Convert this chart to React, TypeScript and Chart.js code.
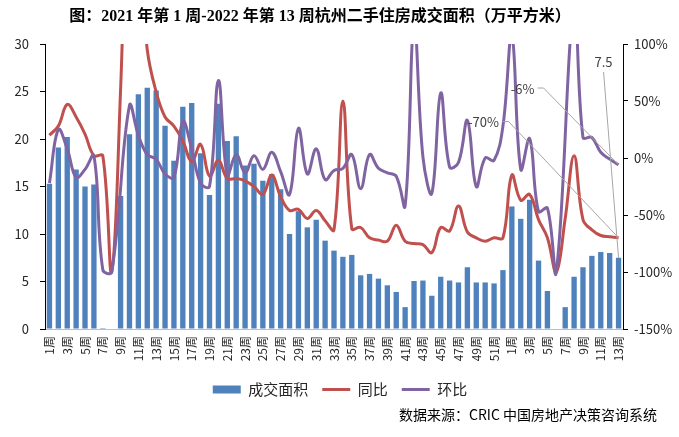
import { useEffect, useRef } from 'react';
import { Chart, registerables } from 'chart.js';

Chart.register(...registerables);

const TITLE = '图：2021 年第 1 周-2022 年第 13 周杭州二手住房成交面积（万平方米）';
const SOURCE = '数据来源：CRIC 中国房地产决策咨询系统';

const categories = [
  '1周', '2周', '3周', '4周', '5周', '6周', '7周', '8周', '9周', '10周',
  '11周', '12周', '13周', '14周', '15周', '16周', '17周', '18周', '19周', '20周',
  '21周', '22周', '23周', '24周', '25周', '26周', '27周', '28周', '29周', '30周',
  '31周', '32周', '33周', '34周', '35周', '36周', '37周', '38周', '39周', '40周',
  '41周', '42周', '43周', '44周', '45周', '46周', '47周', '48周', '49周', '50周',
  '51周', '52周',
  '1周', '2周', '3周', '4周', '5周', '6周', '7周', '8周', '9周', '10周',
  '11周', '12周', '13周',
];

// 成交面积（万平方米）
const area = [
  15.3, 19.1, 20.2, 16.8, 15.0, 15.2, 0.1, 0, 14.0, 20.5,
  24.7, 25.4, 25.1, 21.4, 17.7, 23.4, 23.8, 18.5, 14.1, 23.7,
  19.8, 20.3, 17.2, 17.4, 15.6, 16.3, 14.7, 10.0, 12.4, 10.7,
  11.5, 9.3, 8.25, 7.6, 7.8, 5.65, 5.8, 5.3, 4.6, 3.9,
  2.3, 5.05, 5.1, 3.5, 5.5, 5.1, 4.9, 6.5, 4.9, 4.9,
  4.8, 6.2,
  12.9, 11.6, 13.6, 7.2, 4.0, 0, 2.3, 5.5, 6.5, 7.7,
  8.1, 8.0, 7.5,
];

// 同比（%）
const yoy = [
  20, 28, 47, 36, 21, 2, 2, -100, 60, 280,
  190, 95, 58, 36, 28, 15, -3, 12, -16, -2,
  -18, -18, -20, -25, -32, -15, -34, -46, -45, -53,
  -46, -55, -63, 50, -62, -61, -70, -72, -73, -59,
  -73, -75, -76, -83, -61, -64, -42, -65, -70, -73,
  -70, -70,
  -15, -37, -32, -54, -70, -100, -53, 2, -54, -63,
  -68, -69, -70,
];

// 环比（%）
const wow = [
  -22, 25, 8, -17, -10, 2, -98, -100, null, 46,
  20, 3, -1, -14, -17, 32, 8, -22, -25, 68,
  -15, 3, -13, 2, -10, 5, -12, -32, 26, -14,
  8, -19, -11, -9, 3, -27, 3, -9, -13, -16,
  -42, 120, 1, -31, 57, -8, -4, 33, -25, 0,
  -2, 28,
  108, -10, 17, -47, -44, -100, null, 139, 18, 18,
  5, -1, -6,
];

const BLUE = '#4F81BD';
const RED = '#C0504D';
const PURPLE = '#8064A2';
const FONT = '"Noto Sans CJK SC", sans-serif';

const annotPlugin = {
  id: 'annot',
  afterDraw(chart: any) {
    const ctx = chart.ctx;
    const area0 = chart.chartArea;
    ctx.save();
    // title
    ctx.fillStyle = '#000';
    ctx.font = 'bold 16px "Liberation Serif", "Noto Sans CJK SC", serif';
    ctx.textAlign = 'center';
    ctx.textBaseline = 'middle';
    ctx.fillText(TITLE, 320, 17);
    // source
    ctx.font = '14px ' + FONT;
    ctx.textAlign = 'right';
    ctx.fillStyle = '#000';
    ctx.fillText(SOURCE, 657, 415);

    const n = area.length - 1;
    const bar = chart.getDatasetMeta(0).data[n];
    const red = chart.getDatasetMeta(1).data[n];
    const pur = chart.getDatasetMeta(2).data[n];
    const lx = bar.x;
    const top = area0.top;

    ctx.strokeStyle = '#A6A6A6';
    ctx.lineWidth = 1;
    // bar label
    ctx.beginPath();
    ctx.moveTo(lx - 15, top + 28);
    ctx.lineTo(bar.x, bar.y);
    ctx.stroke();
    // purple label
    ctx.beginPath();
    ctx.moveTo(lx - 81, top + 44);
    ctx.lineTo(lx - 75, top + 44);
    ctx.lineTo(pur.x, pur.y);
    ctx.stroke();
    // red label
    ctx.beginPath();
    ctx.moveTo(lx - 116, top + 77.5);
    ctx.lineTo(lx - 110, top + 77.5);
    ctx.lineTo(red.x, red.y);
    ctx.stroke();

    ctx.fillStyle = '#404040';
    ctx.font = '13px ' + FONT;
    ctx.textAlign = 'center';
    ctx.fillText(String(area[n]), lx - 15, top + 18.5);
    ctx.fillText(wow[n] + '%', lx - 96, top + 45.5);
    ctx.fillText(yoy[n] + '%', lx - 135, top + 78.5);
    ctx.restore();
  },
};

export default function App() {
  const ref = useRef<HTMLCanvasElement | null>(null);
  useEffect(() => {
    if (!ref.current) return;
    Chart.defaults.font.family = FONT;
    const chart = new Chart(ref.current, {
      type: 'bar',
      data: {
        labels: categories,
        datasets: [
          {
            type: 'bar',
            label: '成交面积',
            data: area,
            backgroundColor: BLUE,
            yAxisID: 'y',
            order: 2,
            barPercentage: 0.6,
            categoryPercentage: 1,
            pointStyle: 'rect',
          } as any,
          {
            type: 'line',
            label: '同比',
            data: yoy,
            borderColor: RED,
            backgroundColor: RED,
            borderWidth: 3,
            pointRadius: 0,
            tension: 0.4,
            yAxisID: 'y1',
            order: 1,
            pointStyle: 'line',
          },
          {
            type: 'line',
            label: '环比',
            data: wow,
            borderColor: PURPLE,
            backgroundColor: PURPLE,
            borderWidth: 3,
            pointRadius: 0,
            tension: 0.4,
            spanGaps: true,
            yAxisID: 'y1',
            order: 0,
            pointStyle: 'line',
          },
        ],
      },
      options: {
        animation: false,
        responsive: false,
        layout: { padding: { left: 8, right: 7, top: 44, bottom: 30 } },
        elements: { line: { capBezierPoints: false } },
        plugins: {
          title: { display: false },
          tooltip: { enabled: false },
          legend: {
            position: 'bottom',
            labels: {
              usePointStyle: true,
              pointStyleWidth: 28,
              boxHeight: 8,
              padding: 14,
              color: '#262626',
              font: { size: 15 },
              sort: (a: any, b: any) => a.datasetIndex - b.datasetIndex,
            },
          },
        },
        scales: {
          x: {
            type: 'category',
            offset: true,
            grid: { display: false, drawTicks: false },
            border: { display: true, color: '#BFBFBF' },
            ticks: {
              autoSkip: false,
              minRotation: 90,
              maxRotation: 90,
              padding: 7,
              color: '#262626',
              font: { size: 12 },
              callback: (_v: any, i: number) => (i % 2 === 0 ? categories[i] : ''),
            },
            afterFit: (s: any) => { s.height = 39; },
          },
          y: {
            position: 'left',
            min: 0,
            max: 30,
            ticks: { stepSize: 5, padding: 11, color: '#262626', font: { size: 13 } },
            grid: { drawOnChartArea: false, drawTicks: true, tickLength: 5, color: '#000' },
            border: { display: true, color: '#000' },
            afterFit: (s: any) => { s.width = 37; },
          },
          y1: {
            position: 'right',
            min: -150,
            max: 100,
            ticks: {
              stepSize: 50,
              padding: 6,
              color: '#262626',
              font: { size: 13 },
              callback: (v: any) => v + '%',
            },
            grid: { drawOnChartArea: false, drawTicks: true, tickLength: 5, color: '#000' },
            border: { display: true, color: '#000' },
            afterFit: (s: any) => { s.width = 49; },
          },
        },
      },
      plugins: [annotPlugin],
    });
    return () => chart.destroy();
  }, []);
  return (
    <div style={{ position: 'absolute', left: 0, top: 0, width: 679, height: 437, background: '#fff' }}>
      <canvas ref={ref} width={679} height={437} style={{ display: 'block' }} />
    </div>
  );
}
